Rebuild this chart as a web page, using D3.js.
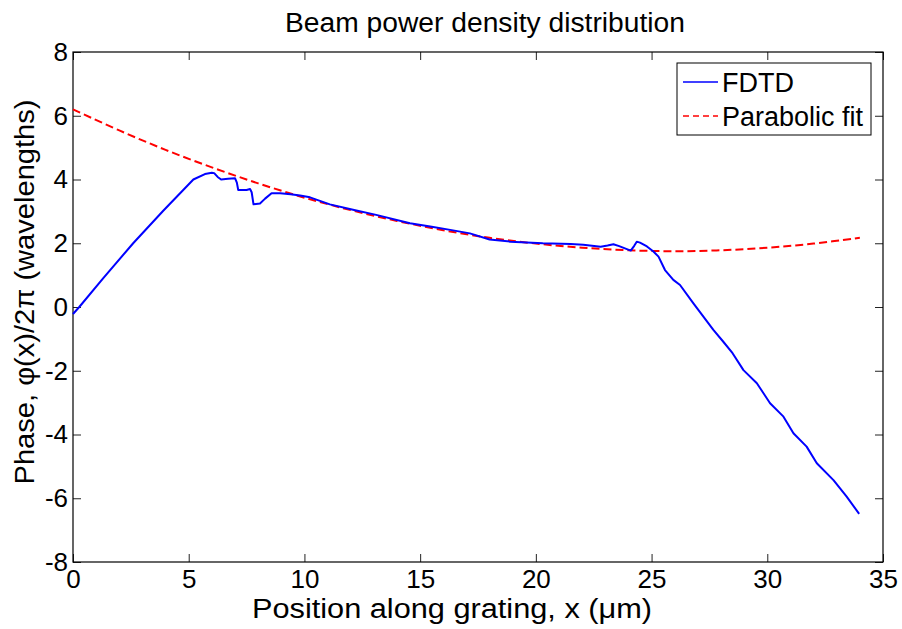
<!DOCTYPE html>
<html>
<head>
<meta charset="utf-8">
<script src="https://cdn.jsdelivr.net/npm/d3@7"></script>
<style>
  body { margin: 0; background: #fff; }
  text { font-family: "Liberation Sans", Arial, sans-serif; }
</style>
</head>
<body>
<div id="chart"></div>
<script>
// FDTD phase
const fdtdX = [0, 0.27, 1.3, 2.6, 3.9, 5.2, 5.7, 6.0, 6.1, 6.25, 6.4, 6.7, 7.0, 7.08, 7.14, 7.5, 7.65, 7.72, 7.8,
  8.08, 8.3, 8.58, 8.95, 9.4, 9.81, 10.24, 11.1, 12.1, 13.1, 14.56, 15.5, 16.3, 17.15, 18.0, 18.9, 20.3, 21.5,
  22.05, 22.8, 23.1, 23.35, 23.6, 24.1, 24.25, 24.36, 24.5, 24.8, 25.08, 25.3, 25.58, 25.94, 26.23, 26.8, 27.67,
  28.1, 28.5, 28.97, 29.55, 30.12, 30.7, 31.13, 31.7, 32.14, 32.86, 33.43, 33.97];
const fdtdY = [-0.22, 0, 0.9, 2.0, 3.02, 4.0, 4.17, 4.21, 4.2, 4.08, 4.0, 4.02, 4.04, 3.9, 3.67, 3.67, 3.7, 3.6, 3.22,
  3.25, 3.4, 3.57, 3.57, 3.54, 3.5, 3.44, 3.22, 3.05, 2.89, 2.63, 2.52, 2.42, 2.31, 2.12, 2.05, 2.0, 1.98,
  1.95, 1.89, 1.93, 1.97, 1.91, 1.77, 1.92, 2.05, 2.02, 1.9, 1.74, 1.58, 1.16, 0.85, 0.69, 0.12, -0.72,
  -1.09, -1.45, -1.98, -2.39, -3.02, -3.44, -3.96, -4.38, -4.9, -5.43, -5.95, -6.49];

// parabolic fit
const fitX = [0, 2, 4, 6, 8, 10, 12, 14, 16, 18, 20, 22, 24, 26, 28, 30, 32, 34];
const fitY = [6.2, 5.54, 4.93, 4.38, 3.88, 3.43, 3.04, 2.7, 2.41, 2.17, 1.99, 1.86, 1.78, 1.75, 1.78, 1.86, 1.99, 2.17];

const xTicks = [0, 5, 10, 15, 20, 25, 30, 35];
const yTicks = [-8, -6, -4, -2, 0, 2, 4, 6, 8];
const seriesNames = ["FDTD", "Parabolic fit"];

const W = 902, H = 629;
const margin = { top: 52, right: 19, bottom: 67, left: 73 },
  width = W - margin.left - margin.right,
  height = H - margin.top - margin.bottom;

const svg = d3.select("#chart").append("svg")
  .attr("width", W)
  .attr("height", H)
  .style("background", "#fff");

const g = svg.append("g")
  .attr("transform", `translate(${margin.left},${margin.top})`);

const x = d3.scaleLinear().domain([0, 35]).range([0, width]);
const y = d3.scaleLinear().domain([-8, 8]).range([height, 0]);

const fmt = d => String(d);   // plain hyphen minus, like MATLAB

// axes, ticks pointing inward
g.append("g")
  .attr("transform", `translate(0,${height})`)
  .call(d3.axisBottom(x).tickValues(xTicks).tickFormat(fmt).tickSizeInner(-8).tickSizeOuter(0).tickPadding(8));
g.append("g")
  .call(d3.axisLeft(y).tickValues(yTicks).tickFormat(fmt).tickSizeInner(-8).tickSizeOuter(0).tickPadding(5));
// mirrored ticks on top and right
g.append("g")
  .call(d3.axisTop(x).tickValues(xTicks).tickSizeInner(-8).tickSizeOuter(0).tickFormat(""));
g.append("g")
  .attr("transform", `translate(${width},0)`)
  .call(d3.axisRight(y).tickValues(yTicks).tickSizeInner(-8).tickSizeOuter(0).tickFormat(""));

g.selectAll(".domain").remove();
g.selectAll(".tick line").attr("stroke", "#222");
g.selectAll(".tick text")
  .attr("font-family", null)
  .attr("font-size", null)
  .style("font-size", "26px")
  .attr("fill", "#000");

// box
g.append("rect")
  .attr("width", width)
  .attr("height", height)
  .attr("fill", "none")
  .attr("stroke", "#000")
  .attr("stroke-width", 1.2);

const line = d3.line().x(d => x(d[0])).y(d => y(d[1]));

g.append("path")
  .datum(fitX.map((v, i) => [v, fitY[i]]))
  .attr("fill", "none")
  .attr("stroke", "#ff0000")
  .attr("stroke-width", 2)
  .attr("stroke-dasharray", "8,4")
  .attr("d", line.curve(d3.curveCatmullRom));

g.append("path")
  .datum(fdtdX.map((v, i) => [v, fdtdY[i]]))
  .attr("fill", "none")
  .attr("stroke", "#0000ff")
  .attr("stroke-width", 2)
  .attr("stroke-linejoin", "round")
  .attr("d", d3.line().x(d => x(d[0])).y(d => y(d[1])));

// legend
const leg = svg.append("g").attr("transform", "translate(677,63)");
leg.append("rect")
  .attr("width", 194)
  .attr("height", 72)
  .attr("fill", "#fff")
  .attr("stroke", "#000")
  .attr("stroke-width", 1);
const legColors = ["#0000ff", "#ff0000"];
const legDash = [null, "6,4"];
seriesNames.forEach((name, i) => {
  const ly = 19 + i * 34;
  leg.append("line")
    .attr("x1", 6).attr("x2", 41)
    .attr("y1", ly).attr("y2", ly)
    .attr("stroke", legColors[i])
    .attr("stroke-width", 1.5)
    .attr("stroke-dasharray", legDash[i]);
  leg.append("text")
    .attr("x", 45)
    .attr("y", ly)
    .attr("dy", "0.36em")
    .style("font-size", "27px")
    .text(name);
});

// title and axis labels (MATLAB's font renders a bit wider than Arial)
svg.append("text")
  .attr("x", 485)
  .attr("y", 32)
  .attr("text-anchor", "middle")
  .attr("textLength", 400)
  .attr("lengthAdjust", "spacingAndGlyphs")
  .style("font-size", "27px")
  .text("Beam power density distribution");

svg.append("text")
  .attr("x", 452)
  .attr("y", 618)
  .attr("text-anchor", "middle")
  .attr("textLength", 400)
  .attr("lengthAdjust", "spacingAndGlyphs")
  .style("font-size", "27px")
  .text("Position along grating, x (\u03bcm)");

svg.append("text")
  .attr("transform", "translate(34,292) rotate(-90)")
  .attr("text-anchor", "middle")
  .attr("textLength", 385)
  .attr("lengthAdjust", "spacingAndGlyphs")
  .style("font-size", "27px")
  .text("Phase, \u03c6(x)/2\u03c0 (wavelengths)");
</script>
</body>
</html>
